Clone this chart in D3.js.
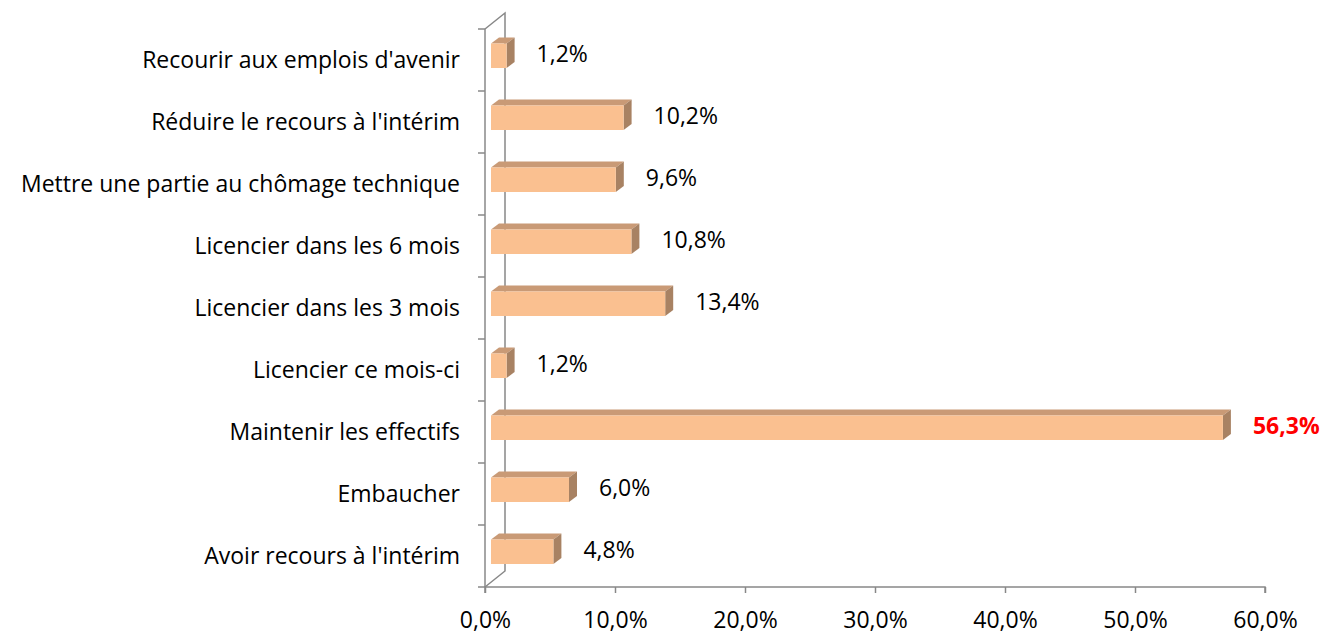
<!DOCTYPE html>
<html>
<head>
<meta charset="utf-8">
<script src="https://cdn.jsdelivr.net/npm/d3@7"></script>
<style>
  body { margin: 0; background: #fff; }
  text { font-family: "Open Sans", "Noto Sans", sans-serif; }
</style>
</head>
<body>
<div id="chart"></div>
<script>
// data, top to bottom
const categories = [
    "Recourir aux emplois d'avenir",
    "Réduire le recours à l'intérim",
    "Mettre une partie au chômage technique",
    "Licencier dans les 6 mois",
    "Licencier dans les 3 mois",
    "Licencier ce mois-ci",
    "Maintenir les effectifs",
    "Embaucher",
    "Avoir recours à l'intérim"
];
const values = [1.2, 10.2, 9.6, 10.8, 13.4, 1.2, 56.3, 6.0, 4.8];
const xTicks = [0, 10, 20, 30, 40, 50, 60];
const highlight = "Maintenir les effectifs";

const width = 1323, height = 635;
const axisColor = "#888888";
const depth = { dx: 20, dy: -16 };   // wall depth
const barDepth = { dx: 8, dy: -6 };
const fontSize = "23px";

let svg = d3.select("#chart").append("svg")
    .attr("width", width)
    .attr("height", height);

let x = d3.scaleLinear().domain([0, 60]).range([485, 1265]);
let y = d3.scaleBand().domain(categories).range([29, 587]);

let fmt = v => d3.format(".1f")(v).replace(".", ",") + "%";

// 3d wall lines
let yTop = y.range()[0], yBottom = y.range()[1], x0 = x(0);
let wall = svg.append("g")
    .attr("stroke", axisColor)
    .attr("stroke-width", 1.5)
    .attr("fill", "none");
wall.append("path")
    .attr("d", `M${x0},${yTop} L${x0 + depth.dx},${yTop + depth.dy} L${x0 + depth.dx},${yBottom + depth.dy} L${x0},${yBottom}`);
wall.append("line")
    .attr("x1", x0).attr("x2", x0)
    .attr("y1", yTop).attr("y2", yBottom);

// y ticks at category boundaries
let bounds = categories.map(c => y(c)).concat([yBottom]);
wall.selectAll(".ytick")
    .data(bounds)
    .enter().append("line")
    .attr("x1", x0 - 7).attr("x2", x0)
    .attr("y1", d => d).attr("y2", d => d);

// x axis
let xAxis = d3.axisBottom(x)
    .tickValues(xTicks)
    .tickSize(6)
    .tickPadding(19)
    .tickFormat(fmt);
let gx = svg.append("g")
    .attr("transform", `translate(0,${yBottom})`)
    .call(xAxis);
gx.select(".domain").attr("stroke", axisColor).attr("stroke-width", 1.5)
    .attr("d", `M${x0},6V0H${x(60)}V6`);
gx.selectAll(".tick line").attr("stroke", axisColor).attr("stroke-width", 1.5);
gx.selectAll(".tick text")
    .attr("fill", "#000")
    .style("font-family", "'Open Sans', sans-serif")
    .style("font-size", fontSize);

// category labels
svg.selectAll(".cat")
    .data(categories)
    .enter().append("text")
    .attr("x", 460)
    .attr("y", d => y(d) + y.bandwidth() / 2)
    .attr("dy", "0.35em")
    .attr("text-anchor", "end")
    .style("font-size", fontSize)
    .text(d => d);

// bars
let barOff = 6, faceTop = 14.5, faceH = 24.5;
let bars = svg.selectAll(".bar")
    .data(categories.map((c, i) => ({ cat: c, value: values[i] })))
    .enter().append("g");

bars.each(function(d) {
    let g = d3.select(this);
    let xl = x(0) + barOff, xr = x(d.value) + barOff;
    let yt = y(d.cat) + faceTop, yb = yt + faceH;
    // top face
    g.append("path")
        .attr("d", `M${xl},${yt} L${xl + barDepth.dx},${yt + barDepth.dy} L${xr + barDepth.dx},${yt + barDepth.dy} L${xr},${yt} Z`)
        .attr("fill", "#C99A76");
    // side face
    g.append("path")
        .attr("d", `M${xr},${yt} L${xr + barDepth.dx},${yt + barDepth.dy} L${xr + barDepth.dx},${yb + barDepth.dy} L${xr},${yb} Z`)
        .attr("fill", "#A88263");
    // front face
    g.append("rect")
        .attr("x", xl).attr("y", yt)
        .attr("width", xr - xl).attr("height", faceH)
        .attr("fill", "#FAC090");
    // value label
    g.append("text")
        .attr("x", xr + 30)
        .attr("y", yt + faceH / 2 - 2)
        .attr("dy", "0.35em")
        .style("font-size", fontSize)
        .style("font-weight", d.cat === highlight ? "bold" : "normal")
        .attr("fill", d.cat === highlight ? "#FF0000" : "#000")
        .text(fmt(d.value));
});
</script>
</body>
</html>
